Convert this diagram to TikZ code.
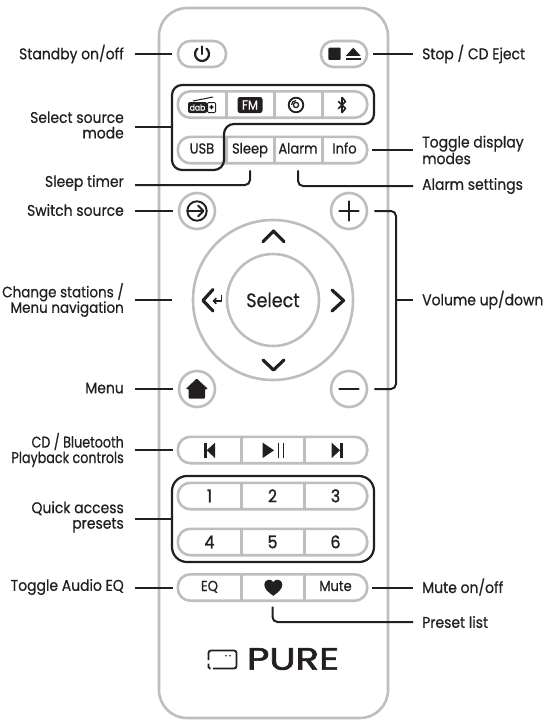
\documentclass[tikz,border=0pt]{standalone}
\usepackage{fontspec}
\usepackage{graphicx}
\setmainfont[FakeBold=0.6,FakeStretch=0.9]{Poppins}
\newfontfamily\brandfont[FakeBold=1.8]{Poppins}
\newfontfamily\tightfont[FakeBold=0.6,FakeStretch=0.82]{Poppins}
\newfontfamily\digitfont[FakeBold=1.2,FakeStretch=0.9]{Poppins}
\usetikzlibrary{matrix}
\definecolor{btngrey}{RGB}{190,190,190}
\definecolor{inkblack}{RGB}{35,31,32}
\tikzset{
    caselabel/.style={font=\fontsize{15.5}{15.5}\selectfont,text=inkblack,inner sep=0pt},
    leftlabel/.style={caselabel,anchor=east,align=right},
    rightlabel/.style={caselabel,anchor=west,align=left},
    pillbox/.style={draw=btngrey,line width=2.6pt,rounded corners=12.5pt},
    roundbtn/.style={circle,draw=btngrey,line width=2.6pt,inner sep=0pt},
    divider/.style={draw=btngrey,line width=2.6pt},
    cell/.style={minimum width=48pt,minimum height=26pt,inner sep=0pt,text height=10pt,text depth=3pt,
        text=inkblack,font=\fontsize{14.5}{14.5}\selectfont},
    wire/.style={draw=inkblack,line width=2pt},
    lwire/.style={wire,shorten <=11pt,shorten >=5pt},
    rwire/.style={wire,shorten <=5pt,shorten >=9pt},
    group/.style={draw=inkblack,line width=2.2pt},
    iconline/.style={draw=inkblack,line width=2.2pt,line cap=round,line join=round},
    iconfill/.style={fill=inkblack}
}
\begin{document}
\begin{tikzpicture}[x=1pt,y=-1pt]
            \useasboundingbox (0,0) rectangle (546,725);
            %remote body
            \node[draw=btngrey,line width=2.6pt,rounded corners=28pt,minimum width=229pt,minimum height=710pt] (remote) at (273.5,363) {};

            %top buttons
            \node[pillbox,minimum width=48pt,minimum height=26pt] (power) at (202,54) {};
            \node[pillbox,minimum width=46pt,minimum height=26pt] (stop) at (344,54) {};

            %source and display buttons
            \matrix (src) [matrix of nodes,nodes in empty cells,inner sep=0pt,
                nodes={cell},column sep=0pt,row sep=19.5pt,
                column 4/.style={nodes={cell,minimum width=45pt}}
                ] at (272.5,127.3) {
                    &  &  &  \\
                    USB & Sleep & Alarm & Info \\};
            \draw[pillbox] (src-1-1.north west) rectangle (src-1-4.south east);
            \draw[pillbox] (src-2-1.north west) rectangle (src-2-4.south east);
            \draw[divider] (src-1-1.north east) -- (src-1-1.south east);
            \draw[divider] (src-1-2.north east) -- (src-1-2.south east);
            \draw[divider] (src-1-3.north east) -- (src-1-3.south east);
            \draw[divider] (src-2-1.north east) -- (src-2-1.south east);
            \draw[divider] (src-2-2.north east) -- (src-2-2.south east);
            \draw[divider] (src-2-3.north east) -- (src-2-3.south east);

            %source outline
            \coordinate (srcedge) at (172,127);
            \draw[group,rounded corners=10pt] (234,85) -- (172,85) -- (172,170) -- (224,170) -- (224,124) -- (374,124) -- (374,85) -- (234,85);

            %round buttons
            \node[roundbtn,minimum size=36pt] (switch) at (197,211) {};
            \node[roundbtn,minimum size=36pt] (volup) at (349,211) {};
            \node[roundbtn,minimum size=36pt] (home) at (197,389) {};
            \node[roundbtn,minimum size=36pt] (voldown) at (349,389) {};
            \node[roundbtn,minimum size=160pt] (ring) at (273,300) {};
            \node[roundbtn,minimum size=92pt,text=inkblack,font=\fontsize{19.5}{19.5}\selectfont] (selectbtn) at (273,300) {Select};

            %playback row
            \matrix (play) [matrix of nodes,nodes in empty cells,inner sep=0pt,
                nodes={cell,minimum width=63pt},column sep=0pt
                ] at (272.5,450) {
                    &  &  \\};
            \draw[pillbox] (play-1-1.north west) rectangle (play-1-3.south east);
            \draw[divider] (play-1-1.north east) -- (play-1-1.south east);
            \draw[divider] (play-1-2.north east) -- (play-1-2.south east);

            %preset rows
            \matrix (pre) [matrix of nodes,inner sep=0pt,
                nodes={cell,minimum width=63pt,text height=12.5pt,text depth=0pt,font=\digitfont\fontsize{17.5}{17.5}\selectfont},column sep=0pt,row sep=20pt
                ] at (272.5,519) {
                    1 & 2 & 3 \\
                    4 & 5 & 6 \\};
            \draw[pillbox] (pre-1-1.north west) rectangle (pre-1-3.south east);
            \draw[pillbox] (pre-2-1.north west) rectangle (pre-2-3.south east);
            \draw[divider] (pre-1-1.north east) -- (pre-1-1.south east);
            \draw[divider] (pre-1-2.north east) -- (pre-1-2.south east);
            \draw[divider] (pre-2-1.north east) -- (pre-2-1.south east);
            \draw[divider] (pre-2-2.north east) -- (pre-2-2.south east);
            \node[group,rounded corners=15pt,minimum width=202pt,minimum height=86pt] (pregroup) at (273,519) {};

            %bottom row
            \matrix (misc) [matrix of nodes,nodes in empty cells,inner sep=0pt,
                nodes={cell,minimum width=63pt},column sep=0pt
                ] at (272.5,587.5) {
                    EQ &  & Mute \\};
            \draw[pillbox] (misc-1-1.north west) rectangle (misc-1-3.south east);
            \draw[divider] (misc-1-1.north east) -- (misc-1-1.south east);
            \draw[divider] (misc-1-2.north east) -- (misc-1-2.south east);

            %icons
            \draw[iconline] (206.5,48.6) arc[start angle=50,end angle=-230,radius=7pt];
            \draw[iconline] (202,46.5) -- (202,54);
            \fill[iconfill,rounded corners=1pt] (328.3,47.7) rectangle (340.7,60);
            \fill[iconfill] (345.7,56) -- (353.3,47.7) -- (360.7,56) -- cycle;
            \fill[iconfill] (345.7,57.8) rectangle (360.7,60);
            \draw[inkblack,line width=1pt] (193,101) -- (213,97);
            \node[fill=inkblack,text=white,rounded corners=2pt,inner sep=0pt,minimum width=19pt,minimum height=11pt,font=\fontsize{8.5}{8.5}\selectfont] (dabtag) at (197.5,107.5) {dab};
            \node[draw=inkblack,fill=white,line width=1pt,rounded corners=1pt,inner sep=0pt,minimum width=8pt,minimum height=10pt,font=\bfseries\fontsize{8}{8}\selectfont] (dabplus) at (211.5,107.5) {+};
            \node[fill=inkblack,text=white,rounded corners=2.5pt,inner sep=0pt,minimum width=25pt,minimum height=16pt,font=\fontsize{13}{13}\selectfont] (fmtag) at (250,105) {FM};
            \draw[inkblack,line width=1.8pt] (296,105) circle (7.3pt);
            \draw[inkblack,line width=1.3pt] (296,105) circle (2.6pt);
            \draw[inkblack,line width=1.2pt] (291.5,105) arc[start angle=180,end angle=90,radius=4.5pt];
            \draw[iconline,line width=1.6pt] (338.5,101.5) -- (345.5,108.5) -- (342,112.5) -- (342,97.5) -- (345.5,101.5) -- (338.5,108.5);
            \draw[iconline,line width=1.9pt] (197,211) circle (9.7pt);
            \draw[iconline,line width=1.9pt] (188,211) -- (203,211);
            \draw[iconline,line width=1.9pt] (198,205.5) -- (203.5,211) -- (198,216.5);
            \draw[iconline,line width=2.4pt] (349,201.5) -- (349,220.5);
            \draw[iconline,line width=2.4pt] (339.5,211) -- (358.5,211);
            \draw[iconline,line width=2.4pt] (339.5,389) -- (358.5,389);
            \draw[iconline,line width=3.2pt] (263,241.7) -- (273.5,231) -- (284,241.7);
            \draw[iconline,line width=3.2pt] (263,360) -- (273.5,370) -- (284,360);
            \draw[iconline,line width=3.2pt] (332,290) -- (343.5,300.5) -- (332,311);
            \draw[iconline,line width=3.2pt] (213,289.5) -- (203,300.5) -- (213,311);
            \draw[iconline,line width=1.5pt] (221.5,295.5) -- (221.5,301) -- (213.5,301);
            \draw[iconline,line width=1.5pt] (216,298.5) -- (213.5,301) -- (216,303.5);
            \fill[iconfill,rounded corners=0.8pt] (196.7,378.5) -- (208,389) -- (205,389) -- (205,398.5) -- (188.7,398.5) -- (188.7,389) -- (185.7,389) -- cycle;
            \fill[iconfill] (204.3,442.7) rectangle (206.7,458);
            \fill[iconfill] (215,442.7) -- (206.7,450.3) -- (215,458) -- cycle;
            \fill[iconfill] (262.7,442.7) -- (274,450.3) -- (262.7,458) -- cycle;
            \fill[iconfill] (277.5,442.7) rectangle (279,458);
            \fill[iconfill] (282.5,442.7) rectangle (284,458);
            \fill[iconfill] (331.7,442.7) -- (340,450.3) -- (331.7,458) -- cycle;
            \fill[iconfill] (340,442.7) rectangle (342.7,458);
            \fill[iconfill] (273.3,595.8) .. controls (268,592) and (264.3,589) .. (264.3,584.5) .. controls (264.3,579.5) and (271,578) .. (273.3,582) .. controls (275.6,578) and (282.3,579.5) .. (282.3,584.5) .. controls (282.3,589) and (278.6,592) .. (273.3,595.8) -- cycle;

            %brand logo
            \draw[inkblack,line width=1.8pt,rounded corners=2.5pt] (208.5,660) -- (208.5,650.5) -- (236.5,650.5) -- (236.5,668.5) -- (213,668.5);
            \draw[inkblack,line width=1.8pt,rounded corners=1.5pt] (208.5,663.5) -- (208.5,668.5) -- (210.5,668.5);
            \fill[inkblack] (226,655.7) circle (0.9pt);
            \fill[inkblack] (230,655.7) circle (0.9pt);
            \node[inner sep=0pt,text=inkblack] (brand) at (293,659) {\scalebox{1.25}[1]{\brandfont\fontsize{31}{31}\selectfont PURE}};

            %labels on the left
            \node[leftlabel] (standby) at (124,54) {Standby on/off};
            \node[leftlabel] (srcmode) at (124,125) {Select source\\mode};
            \node[leftlabel] (sleeptimer) at (124,183) {Sleep timer};
            \node[leftlabel] (switchsrc) at (124,210) {Switch source};
            \node[leftlabel,font=\fontsize{15}{15.5}\selectfont] (stations) at (124,300) {Change stations /\\Menu navigation};
            \node[leftlabel] (menu) at (124,388) {Menu};
            \node[leftlabel,font=\tightfont\fontsize{15.5}{15.5}\selectfont] (playback) at (124,450) {CD / Bluetooth\\Playback controls};
            \node[leftlabel] (quick) at (124,517) {Quick access\\presets};
            \node[leftlabel] (audioeq) at (124,587) {Toggle Audio EQ};

            %labels on the right
            \node[rightlabel] (eject) at (422,54) {Stop / CD Eject};
            \node[rightlabel] (display) at (422,150) {Toggle display\\modes};
            \node[rightlabel] (alarmset) at (422,186) {Alarm settings};
            \node[rightlabel] (volume) at (422,300) {Volume up/down};
            \node[rightlabel] (mute) at (422,587) {Mute on/off};
            \node[rightlabel] (presetlist) at (422,622) {Preset list};

            %connectors
            \draw[lwire] (standby.east) -- (power.west);
            \draw[wire,shorten <=11pt] (srcmode.east |- srcedge) -- (srcedge);
            \draw[lwire,rounded corners=5pt,shorten >=7pt] (sleeptimer.east) ++(0,2) -| (src-2-2.south);
            \draw[lwire] (switchsrc.east |- switch) -- (switch.west);
            \draw[lwire,shorten >=20pt] (stations.east) -- (ring.west);
            \draw[lwire] (menu.east |- home) -- (home.west);
            \draw[lwire] (playback.east) -- (play.west);
            \draw[wire,shorten <=11pt] (quick.east |- pregroup) -- (pregroup.west);
            \draw[lwire] (audioeq.east |- misc) -- (misc.west);

            \draw[rwire] (stop.east) -- (eject.west);
            \draw[rwire] (src.east |- display.west) -- (display.west);
            \draw[rwire,rounded corners=5pt,shorten <=7pt] (src-2-3.south) |- (alarmset.west);
            \coordinate (bracket) at (396,300);
            \draw[wire,rounded corners=5pt,shorten <=6pt,shorten >=6pt] (volup.east) -| (bracket) |- (voldown.east);
            \draw[wire,shorten >=9pt] (bracket) -- (volume.west);
            \draw[rwire] (misc.east) -- (mute.west |- misc);
            \draw[rwire,rounded corners=5pt,shorten <=6pt] (misc-1-2.south) |- (presetlist.west);
\end{tikzpicture}
\end{document}
